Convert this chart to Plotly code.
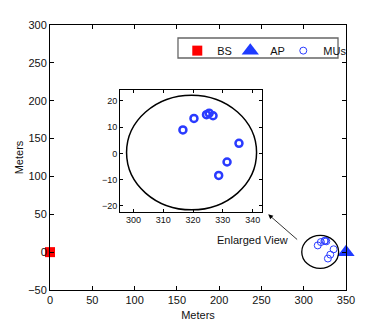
import plotly.graph_objects as go

# Data
bs_x, bs_y = [0], [0]
ap_x, ap_y = [350], [0]
mu_x = [316.6, 320.3, 324.5, 325.4, 326.7, 335.4, 331.4, 328.6]
mu_y = [8.9, 13.3, 14.7, 15.3, 14.3, 3.8, -3.3, -8.4]
circle_cx, circle_cy = 319.5, 0.3
circle_r = 21.8

main_xticks = [0, 50, 100, 150, 200, 250, 300, 350]
main_yticks = [-50, 0, 50, 100, 150, 200, 250, 300]
inset_xticks = [300, 310, 320, 330, 340]
inset_yticks = [-20, -10, 0, 10, 20]

FONT = "Liberation Sans, Arial, sans-serif"
TXT = "#111"

fig = go.Figure()

fig.add_trace(go.Scatter(x=bs_x, y=bs_y, mode="markers", name="BS",
                         marker=dict(symbol="square", size=10, color="#ff0000"),
                         cliponaxis=False, xaxis="x", yaxis="y"))
fig.add_trace(go.Scatter(x=ap_x, y=ap_y, mode="markers", name="AP",
                         marker=dict(symbol="triangle-up", size=15, color="#1f3bff"),
                         cliponaxis=False, xaxis="x", yaxis="y"))
fig.add_trace(go.Scatter(x=mu_x, y=mu_y, mode="markers", name="MUs",
                         marker=dict(symbol="circle-open", size=7, color="#2a3bff",
                                     line=dict(width=1)),
                         xaxis="x", yaxis="y"))
fig.add_trace(go.Scatter(x=mu_x, y=mu_y, mode="markers", name="MUs",
                         showlegend=False,
                         marker=dict(symbol="circle-open", size=7, color="#2a3bff",
                                     line=dict(width=2.5)),
                         xaxis="x2", yaxis="y2"))

# circles
for xr, yr, w in [("x", "y", 1.3), ("x2", "y2", 1.5)]:
    fig.add_shape(type="circle", xref=xr, yref=yr,
                  x0=circle_cx - circle_r, x1=circle_cx + circle_r,
                  y0=circle_cy - circle_r, y1=circle_cy + circle_r,
                  line=dict(color="black", width=w), layer="above")

# legend frame
fig.add_shape(type="rect", xref="paper", yref="paper",
              x0=0.4324, x1=0.973, y0=0.8755, y1=0.951,
              line=dict(color="#666", width=1.3), fillcolor="white", layer="below")

fig.add_annotation(x=258, y=50, ax=294, ay=15, axref="x", ayref="y",
                   xref="x", yref="y", text="", showarrow=True,
                   arrowhead=2, arrowsize=1.2, arrowwidth=0.8, arrowcolor="black")
fig.add_annotation(x=240, y=16, xref="x", yref="y", text="Enlarged View",
                   showarrow=False, font=dict(size=11, color=TXT, family=FONT))

axis_common = dict(showline=True, linecolor="black", linewidth=1, mirror="ticks",
                   ticks="inside", ticklen=4, tickcolor="black", showgrid=False,
                   zeroline=False, automargin=False,
                   tickfont=dict(size=11, color=TXT, family=FONT))
inset_common = {**axis_common, "tickfont": dict(size=9, color=TXT, family=FONT), "ticklen": 3}

fig.update_layout(
    width=382, height=327,
    margin=dict(l=50, r=36, t=25, b=37, autoexpand=False),
    paper_bgcolor="white", plot_bgcolor="white",
    xaxis=dict(domain=[0, 1], range=[0, 350], tickvals=main_xticks,
               title=dict(text="Meters", standoff=6, font=dict(size=11, family=FONT, color=TXT)),
               **axis_common),
    yaxis=dict(domain=[0, 1], range=[-50, 300], tickvals=main_yticks,
               title=dict(text="Meters", standoff=2, font=dict(size=11, family=FONT, color=TXT)),
               **axis_common),
    xaxis2=dict(domain=[0.2365, 0.717], range=[295.5, 343.2], tickvals=inset_xticks,
                anchor="y2", **inset_common),
    yaxis2=dict(domain=[0.2955, 0.7547], range=[-22.2, 24.1], tickvals=inset_yticks,
                anchor="x2", **inset_common),
    legend=dict(orientation="h", x=0.43, y=0.958, xanchor="left", yanchor="top",
                borderwidth=0, bgcolor="rgba(0,0,0,0)",
                entrywidth=8, entrywidthmode="pixels", itemwidth=30,
                font=dict(size=11, family=FONT, color=TXT)),
    showlegend=True,
)

post = """
document.body.style.margin = '0';
document.querySelectorAll('.legend .scrollbox').forEach(function(e){ e.removeAttribute('clip-path'); });
"""
fig.write_html("out.html", post_script=post, config={"displayModeBar": False})
